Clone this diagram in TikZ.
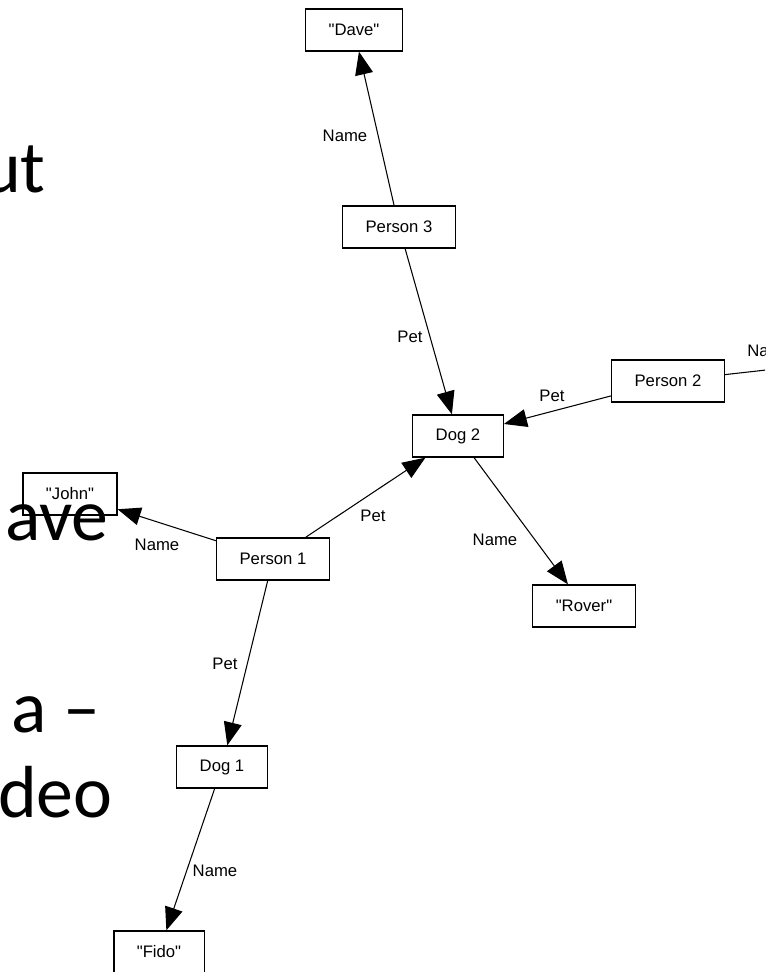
\documentclass[tikz,border=0pt]{standalone}
\usepackage{fontspec}
\setmainfont{Liberation Sans}[Ligatures=TeXOff]
\newfontfamily\slidefont{Carlito}
\usetikzlibrary{arrows.meta}

\begin{document}
\begin{tikzpicture}[
        x=0.02cm, y=-0.02cm,
        box/.style={draw, line width=0.75pt, fill=white, minimum height=0.84cm,
                inner xsep=0.46cm, font=\fontsize{9.5}{11}\selectfont},
        lbl/.style={inner sep=0pt, font=\fontsize{9.5}{11}\selectfont},
        arrow/.style={-{Triangle[length=0.46cm, width=0.36cm]}, line width=0.6pt},
        slide/.style={anchor=base east, inner sep=0pt, font=\slidefont\fontsize{42}{50}\selectfont}
    ]
    \useasboundingbox (0,0) rectangle (765,972);
    \clip (0,0) rectangle (765,972);

    \node[box] (dave) at (354,30) {"Dave"};
    \node[box] (p3) at (399,227) {Person 3};
    \node[box] (p2) at (668,381) {Person 2};
    \node[box] (dog2) at (458,436) {Dog 2};
    \node[box] (john) at (70,494) {"John"};
    \node[box] (p1) at (273,559) {Person 1};
    \node[box] (rover) at (584,606) {"Rover"};
    \node[box] (dog1) at (222,767) {Dog 1};
    \node[box] (fido) at (159,952) {"Fido"};
    \coordinate (p2name) at (900,355);

    \draw[arrow] (p3) -- (dave);
    \draw[arrow] (p3) -- (dog2);
    \draw[arrow] (p2) -- (dog2);
    \draw[arrow] (p2) -- (p2name);
    \draw[arrow] (p1) -- (john);
    \draw[arrow] (p1) -- (dog2);
    \draw[arrow] (dog2) -- (rover);
    \draw[arrow] (p1) -- (dog1);
    \draw[arrow] (dog1) -- (fido);

    \node[lbl] (lnamedave) at (345,136) {Name};
    \node[lbl] (lpetp3) at (410,337) {Pet};
    \node[lbl] (lpetp2) at (552,396) {Pet};
    \node[lbl, anchor=west] (lnamep2) at (747,351) {Name};
    \node[lbl] (lnamejohn) at (157,545) {Name};
    \node[lbl] (lpetp1) at (373,516) {Pet};
    \node[lbl] (lnamerover) at (495,540) {Name};
    \node[lbl] (lpetdog1) at (225,664) {Pet};
    \node[lbl] (lnamefido) at (215,871) {Name};

    % slide text behind the graph
    \node[slide] (tut) at (46,193) {ut};
    \node[slide] (tave) at (109,540) {ave};
    \node[slide] (ta) at (101,732) {a –};
    \node[slide] (tdeo) at (113,817) {deo};
\end{tikzpicture}
\end{document}
